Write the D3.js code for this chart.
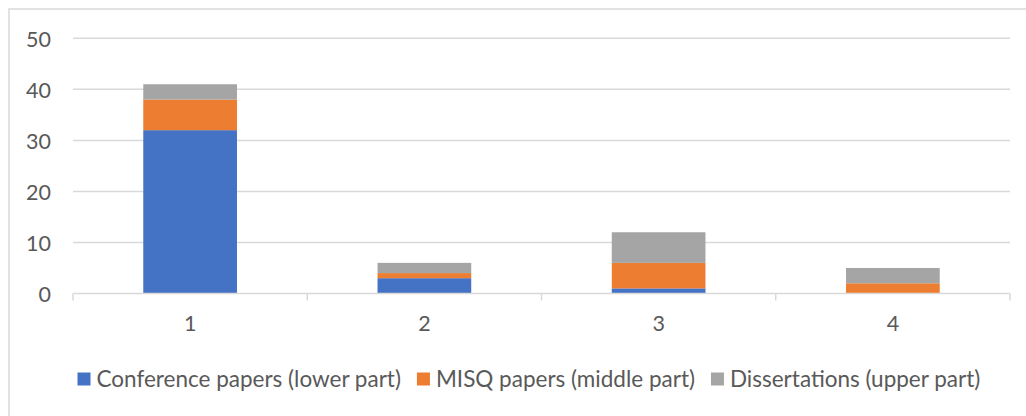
<!DOCTYPE html>
<html>
<head>
<meta charset="utf-8">
<script src="https://cdn.jsdelivr.net/npm/d3@7"></script>
<style>
  html, body { margin: 0; padding: 0; background: #fff; }
  svg { display: block; }
  text { font-family: Lato, "Open Sans", sans-serif; fill: #595959; }
</style>
</head>
<body>
<svg id="chart" width="1026" height="416"></svg>
<script>
// Categories and stacked series values
const categories = ["1", "2", "3", "4"];
const conferencePapers = [32, 3, 1, 0];
const misqPapers = [6, 1, 5, 2];
const dissertations = [3, 2, 6, 3];
const yTicks = [0, 10, 20, 30, 40, 50];

const seriesNames = [
  "Conference papers (lower part)",
  "MISQ papers (middle part)",
  "Dissertations (upper part)"
];
const seriesKeys = ["conf", "misq", "diss"];
const colors = ["#4472C4", "#ED7D31", "#A5A5A5"];

const rows = categories.map((c, i) => ({
  cat: c,
  conf: conferencePapers[i],
  misq: misqPapers[i],
  diss: dissertations[i]
}));

const svg = d3.select("#chart");
const W = 1026, H = 416;
const plot = { left: 73, right: 1010, top: 38.3, bottom: 293.5 };

// chart frame
svg.append("rect")
  .attr("x", 9).attr("y", 9)
  .attr("width", W + 20).attr("height", H + 20)
  .attr("fill", "none").attr("stroke", "#d9d9d9").attr("stroke-width", 1.5);

const x = d3.scaleBand().domain(categories)
  .range([plot.left, plot.right]).paddingInner(0.6).paddingOuter(0.3);
const xEdges = d3.scaleBand().domain(categories).range([plot.left, plot.right]);
const y = d3.scaleLinear().domain([0, 50]).range([plot.bottom, plot.top]);

// horizontal gridlines
svg.append("g").selectAll("line")
  .data(yTicks.filter(t => t > 0))
  .join("line")
  .attr("x1", plot.left).attr("x2", plot.right)
  .attr("y1", d => y(d)).attr("y2", d => y(d))
  .attr("stroke", "#d9d9d9").attr("stroke-width", 1.5);

// y-axis labels
const yAxis = d3.axisLeft(y).tickValues(yTicks).tickSize(0).tickPadding(0);
const gy = svg.append("g").attr("transform", "translate(51,0)").call(yAxis);
gy.select(".domain").remove();
gy.selectAll("text")
  .attr("font-size", 21.5)
  .attr("font-family", "Lato, sans-serif")
  .attr("fill", "#595959")
  .attr("dy", "0.36em");

// stacked bars
const stack = d3.stack().keys(seriesKeys);
const layers = stack(rows);
svg.append("g").selectAll("g")
  .data(layers)
  .join("g")
  .attr("fill", (d, i) => colors[i])
  .selectAll("rect")
  .data(d => d)
  .join("rect")
  .attr("x", d => x(d.data.cat))
  .attr("width", x.bandwidth())
  .attr("y", d => y(d[1]))
  .attr("height", d => y(d[0]) - y(d[1]));

// category axis with ticks at band edges
svg.append("line")
  .attr("x1", plot.left).attr("x2", plot.right)
  .attr("y1", plot.bottom).attr("y2", plot.bottom)
  .attr("stroke", "#d9d9d9").attr("stroke-width", 1.5);
const edges = categories.map(c => xEdges(c)).concat([plot.right]);
svg.append("g").selectAll("line")
  .data(edges)
  .join("line")
  .attr("x1", d => d).attr("x2", d => d)
  .attr("y1", plot.bottom).attr("y2", plot.bottom + 7)
  .attr("stroke", "#d9d9d9").attr("stroke-width", 1.5);
svg.append("g").selectAll("text")
  .data(categories)
  .join("text")
  .attr("x", d => x(d) + x.bandwidth() / 2)
  .attr("y", 331)
  .attr("text-anchor", "middle")
  .attr("font-size", 21.5)
  .text(d => d);

// legend
const legend = svg.append("g");
let lx = 77.5;
seriesNames.forEach((name, i) => {
  legend.append("rect")
    .attr("x", lx).attr("y", 372.5)
    .attr("width", 13).attr("height", 13)
    .attr("fill", colors[i]);
  const t = legend.append("text")
    .attr("x", lx + 19).attr("y", 387)
    .attr("font-size", 22.5)
    .text(name);
  lx += 19 + t.node().getComputedTextLength() + 16;
});
</script>
</body>
</html>
